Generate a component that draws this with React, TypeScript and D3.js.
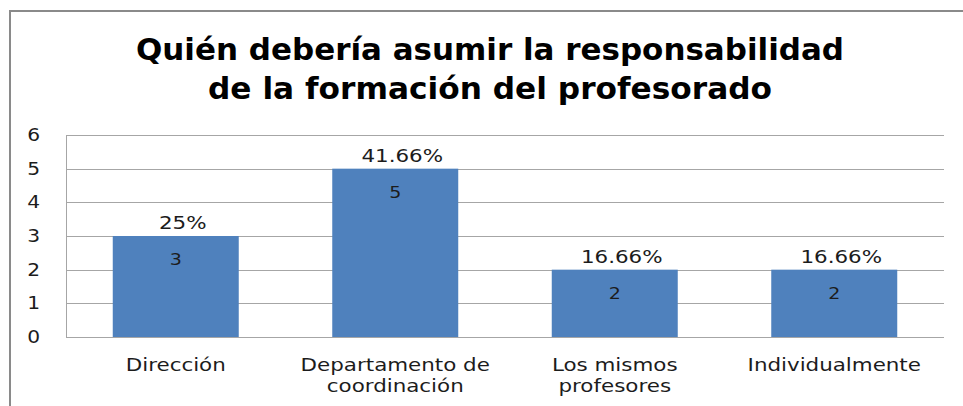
import React from "react";
import * as d3 from "d3";

const categories: string[][] = [
  ["Dirección"],
  ["Departamento de", "coordinación"],
  ["Los mismos", "profesores"],
  ["Individualmente"],
];
const values: number[] = [3, 5, 2, 2];
const percentLabels: string[] = ["25%", "41.66%", "16.66%", "16.66%"];
const yTicks: number[] = [0, 1, 2, 3, 4, 5, 6];
const titleLines: string[] = [
  "Quién debería asumir la responsabilidad",
  "de la formación del profesorado",
];

const W = 963;
const H = 406;
const FONT = "'DejaVu Sans', Verdana, sans-serif";
const SX = 1.19;

export default function App() {
  const x = d3
    .scaleBand<number>()
    .domain(values.map((_, i) => i))
    .range([66, 944])
    .paddingInner(0.426)
    .paddingOuter(0.213);
  const y = d3.scaleLinear().domain([0, 6]).range([337, 135]);
  const grid = "#a6a6a6";
  const textColor = "#1c1c1c";
  const titleLens = [708, 564];
  const titleY = [60, 99];

  return (
    <svg
      width={W}
      height={H}
      style={{ position: "absolute", left: 0, top: 0, background: "#fff" }}
    >
      <rect x={0} y={0} width={W} height={H} fill="#fff" />
      <rect
        x={10}
        y={11}
        width={W + 20}
        height={H + 20}
        fill="none"
        stroke="#8a8a8a"
        strokeWidth={2}
      />
      {titleLines.map((t, i) => (
        <text
          key={i}
          x={490}
          y={titleY[i]}
          textAnchor="middle"
          fontFamily={FONT}
          fontWeight="bold"
          fontSize={30}
          fill="#000"
          textLength={titleLens[i]}
          lengthAdjust="spacingAndGlyphs"
        >
          {t}
        </text>
      ))}
      {yTicks.map((t) => (
        <g key={t}>
          {t > 0 && (
            <line
              x1={66}
              x2={944}
              y1={Math.round(y(t)) + 0.5}
              y2={Math.round(y(t)) + 0.5}
              stroke={grid}
              strokeWidth={1}
            />
          )}
          <text
            transform={`translate(40,${y(t)}) scale(${SX},1)`}
            textAnchor="end"
            dy="0.36em"
            fontFamily={FONT}
            fontSize={17}
            fill={textColor}
          >
            {t}
          </text>
        </g>
      ))}
      {values.map((v, i) => {
        const bx = x(i)!;
        const cx = bx + x.bandwidth() / 2;
        return (
          <g key={i}>
            <rect
              x={bx}
              y={y(v)}
              width={x.bandwidth()}
              height={y(0) - y(v)}
              fill="#4f81bd"
            />
            <text
              transform={`translate(${cx + 7},${y(v) - 7}) scale(${SX},1)`}
              textAnchor="middle"
              fontFamily={FONT}
              fontSize={18}
              fill={textColor}
            >
              {percentLabels[i]}
            </text>
            <text
              transform={`translate(${cx},${y(v) + 29}) scale(${SX},1)`}
              textAnchor="middle"
              fontFamily={FONT}
              fontSize={16}
              fill={textColor}
            >
              {v}
            </text>
            {categories[i].map((line, j) => (
              <text
                key={j}
                transform={`translate(${cx},${371 + j * 21}) scale(${SX},1)`}
                textAnchor="middle"
                fontFamily={FONT}
                fontSize={18}
                fill={textColor}
              >
                {line}
              </text>
            ))}
          </g>
        );
      })}
      <line x1={66.5} x2={66.5} y1={135} y2={337} stroke={grid} />
      <line x1={66} x2={944} y1={337.5} y2={337.5} stroke={grid} />
    </svg>
  );
}
